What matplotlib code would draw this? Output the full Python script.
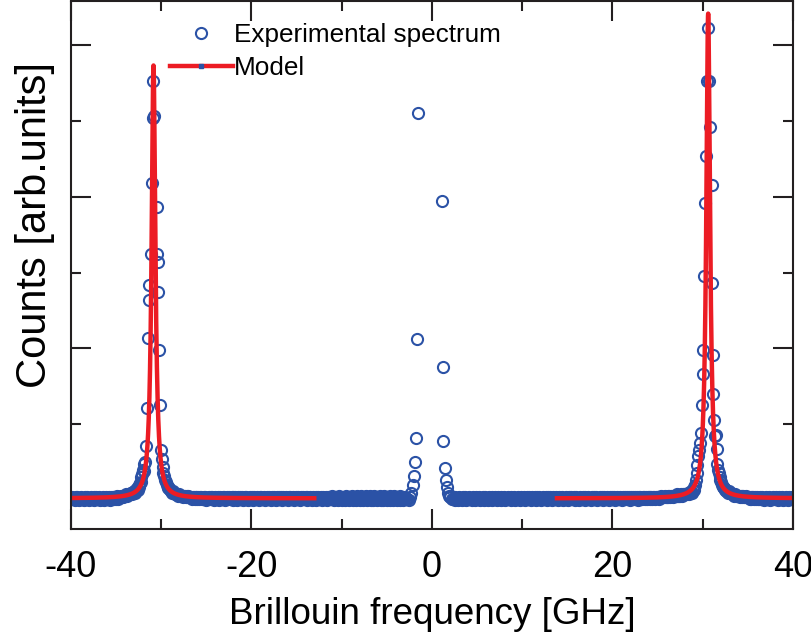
import numpy as np
import matplotlib
matplotlib.use("Agg")
import matplotlib.pyplot as plt
from matplotlib.lines import Line2D

plt.rcParams['font.family'] = ['Liberation Sans', 'DejaVu Sans']
plt.rcParams['axes.unicode_minus'] = False

BLUE = '#2b52a6'
RED = '#ec1c24'

# flat background stretches, 0.1 GHz steps, one digit per point in units of 0.01
bg_a_range = (-40.0, -33.4)
bg_a = ("1211021210" "1211021121" "0121102121" "1201121012" "1120212212"
        "1312232323" "3434445")

bg_b_range = (-28.4, -2.8)
bg_b = ("4443433323" "3232322212" "2122121221" "1212011212" "2101211202"
        "1122101212" "1120212102" "1211201221" "0121120211" "2102121120"
        "1212110212" "1021211202" "1121021211" "2012112102" "1211202112"
        "1021120121" "1202112102" "1213102121" "0312012103" "1202130121"
        "0312031201" "2302130120" "3120213012" "0312021301" "2031202130"
        "1201211")

bg_c_range = (2.3, 28.1)
bg_c = ("1102110211" "0211201121" "1021102112" "0112102110" "2112011210"
        "2110211201" "1211021120" "1121102112" "0121121021" "1202112101"
        "2112021121" "0211211021" "1201121102" "1211201211" "0211212011"
        "2110212112" "0112121021" "1210211212" "0121121102" "1212120211"
        "2121202121" "1221212212" "2122122212" "2322232232" "3233233343"
        "333434444")

bg_d_range = (33.1, 40.0)
bg_d = ("5444343333" "2332322322" "2121221212" "1121121012" "1121011211"
        "2101211201" "1211021121")

# anti-Stokes Brillouin peak
peak_l_freq = [-33.30, -33.20, -33.10, -33.00, -32.90, -32.80, -32.70, -32.60,
               -32.50, -32.42, -32.34, -32.27, -32.20, -32.12, -32.04, -31.96,
               -31.89, -31.78, -31.67, -31.56, -31.48, -31.37, -31.31, -31.10,
               -31.04, -30.93, -30.86, -30.80, -30.49, -30.42, -30.38, -30.33,
               -30.23, -30.12, -30.04, -29.92, -29.82, -29.76, -29.66, -29.57,
               -29.47, -29.38, -29.29, -29.20, -29.10, -29.01, -28.90, -28.80,
               -28.70, -28.60, -28.50]
peak_l_counts = [0.05, 0.04, 0.05, 0.06, 0.05, 0.07, 0.08, 0.07,
                 0.09, 0.10, 0.11, 0.12, 0.15, 0.17, 0.20, 0.19,
                 0.24, 0.25, 0.36, 0.61, 1.07, 1.32, 1.42, 1.62,
                 2.09, 2.52, 2.76, 2.53, 1.93, 1.62, 1.57, 1.37,
                 0.99, 0.63, 0.33, 0.27, 0.22, 0.18, 0.16, 0.13,
                 0.12, 0.10, 0.09, 0.08, 0.08, 0.07, 0.06, 0.05,
                 0.06, 0.05, 0.04]

# wings of the elastic line (centre blocked)
central_freq = [-2.75, -2.55, -2.44, -2.33, -2.14, -1.99, -1.88, -1.77, -1.66, -1.58,
                1.07, 1.18, 1.25, 1.44, 1.51, 1.63, 1.74, 1.86, 2.00, 2.20]
central_counts = [0.01, 0.00, 0.02, 0.05, 0.10, 0.16, 0.25, 0.41, 1.06, 2.55,
                  1.97, 0.88, 0.39, 0.21, 0.13, 0.09, 0.05, 0.03, 0.02, 0.01]

# Stokes Brillouin peak
peak_r_freq = [28.30, 28.40, 28.50, 28.60, 28.70, 28.80, 28.90, 29.00, 29.08,
               29.15, 29.24, 29.31, 29.40, 29.49, 29.60, 29.68, 29.76, 29.87,
               29.98, 30.04, 30.12, 30.23, 30.34, 30.49, 30.60, 30.71, 30.79,
               30.97, 31.04, 31.09, 31.15, 31.26, 31.34, 31.42, 31.53, 31.60,
               31.70, 31.78, 31.86, 31.95, 32.03, 32.10, 32.20, 32.30, 32.40,
               32.50, 32.60, 32.70, 32.80, 32.90, 33.00]
peak_r_counts = [0.04, 0.05, 0.04, 0.05, 0.06, 0.05, 0.07, 0.07, 0.09,
                 0.10, 0.13, 0.18, 0.23, 0.29, 0.33, 0.38, 0.44, 0.63,
                 0.83, 0.99, 1.48, 1.96, 2.27, 2.76, 3.11, 2.76, 2.46,
                 2.08, 1.43, 0.96, 0.70, 0.53, 0.42, 0.43, 0.34, 0.24,
                 0.20, 0.18, 0.15, 0.13, 0.12, 0.10, 0.09, 0.08, 0.08,
                 0.07, 0.06, 0.06, 0.05, 0.06, 0.05]

# Lorentzian fit: centre [GHz], FWHM [GHz], amplitude
fit_peaks = [(-30.86, 0.50, 2.853), (30.60, 0.50, 3.195)]
fit_background = 0.012
fit_windows = [(-40.0, -12.8), (13.6, 40.0)]


def lorentzian(f, f0, fwhm, amp):
    return amp / (1.0 + ((f - f0) / (fwhm / 2.0)) ** 2)


def model(f):
    y = np.full_like(f, fit_background)
    for f0, w, a in fit_peaks:
        y += lorentzian(f, f0, w, a)
    return y


def background(rng, digits):
    vals = np.array([int(d) for d in digits]) * 0.01
    return np.linspace(rng[0], rng[1], len(vals)), vals


segments = [background(bg_a_range, bg_a), background(bg_b_range, bg_b),
            background(bg_c_range, bg_c), background(bg_d_range, bg_d),
            (peak_l_freq, peak_l_counts), (central_freq, central_counts),
            (peak_r_freq, peak_r_counts)]
freq = np.concatenate([np.asarray(s[0]) for s in segments])
counts = np.concatenate([np.asarray(s[1]) for s in segments])

fig = plt.figure(figsize=(8.12, 6.32), dpi=100)
ax = fig.add_axes([71 / 812, 103 / 632, 722 / 812, 528 / 632])

marker_kw = dict(marker='o', ms=8.0, mfc='none', mec=BLUE, mew=1.5)
ax.plot(freq, counts, ls='none', **marker_kw)

for lo, hi in fit_windows:
    ff = np.linspace(lo, hi, 6000)
    ax.plot(ff, model(ff), color=RED, lw=3.2, solid_joinstyle='round',
            solid_capstyle='butt')

ax.set_xlim(-40, 40)
ax.set_ylim(-0.19, 3.29)
ax.set_xticks([-40, -20, 0, 20, 40])
ax.set_xticks([-30, -10, 10, 30], minor=True)
ax.set_yticks([0, 1, 2, 3])
ax.set_yticks([0.5, 1.5, 2.5], minor=True)
ax.set_yticklabels([])
ax.tick_params(which='both', direction='in', top=True, right=True,
               width=1.5, color='#231f20')
ax.tick_params(which='major', length=14.5, labelsize=26, pad=15)
ax.tick_params(which='minor', length=7.2)
for sp in ax.spines.values():
    sp.set_linewidth(1.5)
    sp.set_color('#231f20')

ax.set_xlabel('Brillouin frequency [GHz]', fontsize=26.5, labelpad=8.5)
ax.set_ylabel('Counts [arb.units]', fontsize=30)
ax.yaxis.set_label_coords(-0.022, 0.576)

data_handle = Line2D([], [], ls='none', **marker_kw)
model_handle = Line2D([], [], color=RED, lw=3.2, marker='s', ms=2.5,
                      mfc=BLUE, mec=BLUE)
ax.legend([data_handle, model_handle], ['Experimental spectrum', 'Model'],
          loc='upper left', bbox_to_anchor=(0.137, 0.9585), frameon=False,
          fontsize=18.8, handlelength=2.4, handletextpad=0.05,
          labelspacing=0.35, borderpad=0, borderaxespad=0)

fig.savefig('out.png', dpi=100)
